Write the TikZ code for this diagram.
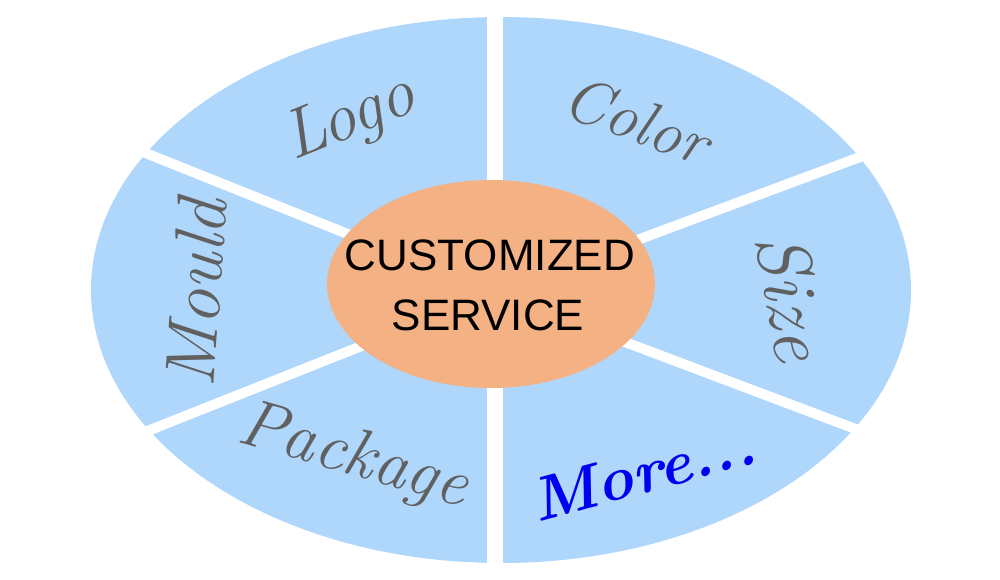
\documentclass[tikz,border=0pt]{standalone}
\usepackage{fontspec}
\setmainfont{Liberation Sans}
\usetikzlibrary{calc,shapes.geometric}
\definecolor{sectorblue}{HTML}{AFD6FB}
\definecolor{coreorange}{HTML}{F4B183}
\definecolor{labelgray}{HTML}{606060}
\definecolor{moreblue}{HTML}{0000F0}
\newfontfamily\scriptlike{Latin Modern Roman}
\newcommand\labelsize[1]{\fontsize{#1}{#1}\selectfont\scriptlike\itshape}
\begin{document}
\begin{tikzpicture}[x=1pt,y=-1pt,
  sepline/.style={draw=white,line width=10pt},
  sectorlabel/.style={text=labelgray,inner sep=0pt},
  corelabel/.style={font=\fontsize{44}{60}\selectfont,text=black,align=center,inner sep=0pt}]
\useasboundingbox (0,0) rectangle (1000,579);
% outer ellipse
\fill[sectorblue] (501,290) ellipse [x radius=410, y radius=273];
% centre and separators
\coordinate (c) at (495,293);
\coordinate (ul) at ($(c)!1.4!(143,152)$);
\coordinate (ur) at ($(c)!1.4!(860,157)$);
\coordinate (ll) at ($(c)!1.4!(150,430)$);
\coordinate (lr) at ($(c)!1.4!(853,428)$);
\coordinate (top) at (495,0);
\coordinate (bot) at (495,579);
\draw[draw=white,line width=16pt] (top) -- (bot);
\draw[sepline] (c) -- (ul);
\draw[sepline] (c) -- (ur);
\draw[sepline] (c) -- (ll);
\draw[sepline] (c) -- (lr);
% core ellipse
\node[ellipse, fill=coreorange, minimum width=328pt, minimum height=208pt, inner sep=0pt] (core) at (491,284) {};
\node[corelabel, anchor=base] (l1) at (490,270) {CUSTOMIZED};
\node[corelabel, anchor=base] (l2) at (488,330) {SERVICE};
% sector labels
\node[sectorlabel, rotate=22, font=\labelsize{69}] (logo) at (350,120) {Logo};
\node[sectorlabel, rotate=-20, font=\labelsize{63}] (color) at (637,120) {Color};
\node[sectorlabel, rotate=-80, font=\labelsize{75}] (size) at (792,297) {Size};
\node[sectorlabel, rotate=86, font=\labelsize{71}] (mould) at (196,293) {Mould};
\node[sectorlabel, rotate=-16, font=\labelsize{68}] (package) at (353,458) {Package};
\node[sectorlabel, rotate=15, text=moreblue, font=\labelsize{62}\bfseries] (more) at (643,472) {More...};
\end{tikzpicture}
\end{document}
